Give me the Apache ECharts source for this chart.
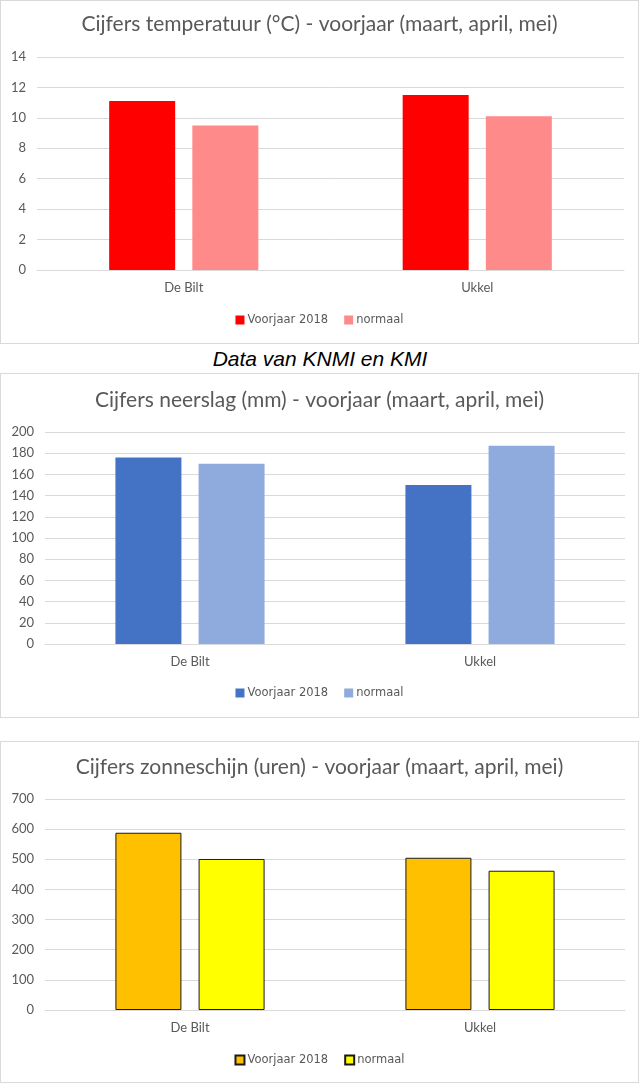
<!DOCTYPE html>
<html><head><meta charset="utf-8">
<script src="https://cdn.jsdelivr.net/npm/echarts@6/dist/echarts.min.js"></script>
<style>
body{margin:0;background:#fff;width:640px;height:1084px;position:relative;overflow:hidden}
.panel{position:absolute;left:0;width:639px;border:1px solid #d9d9d9;box-sizing:border-box;background:#fff}
#note{position:absolute;left:0;width:640px;top:347px;line-height:24px;text-align:center;font:italic 21px "Liberation Sans",Arial,sans-serif;color:#000}
</style></head><body>
<div id="p1" class="panel" style="top:0;height:344px"></div>
<div id="note">Data van KNMI en KMI</div>
<div id="p2" class="panel" style="top:373px;height:345px"></div>
<div id="p3" class="panel" style="top:741px;height:342px"></div>
<script>
const categories = ['De Bilt', 'Ukkel'];
const seriesNames = ['Voorjaar 2018', 'normaal'];

const tempTitle = 'Cijfers temperatuur (°C) - voorjaar (maart, april, mei)';
const tempVoorjaar = [11.1, 11.5];
const tempNormaal = [9.5, 10.1];
const tempTicks = [0, 14, 2];

const rainTitle = 'Cijfers neerslag (mm) - voorjaar (maart, april, mei)';
const rainVoorjaar = [176, 150];
const rainNormaal = [170, 187];
const rainTicks = [0, 200, 20];

const sunTitle = 'Cijfers zonneschijn (uren) - voorjaar (maart, april, mei)';
const sunVoorjaar = [588, 505];
const sunNormaal = [501, 462];
const sunTicks = [0, 700, 100];

const FONT = 'Lato, "Noto Sans", sans-serif';
const GREY = '#595959';

function build(el, title, titleTop, ticks, vA, vB, colA, colB, grid, legendTop, border) {
  const chart = echarts.init(document.getElementById(el), null, {renderer: 'canvas'});
  const mk = (name, data, color) => ({
    name: name, type: 'bar', data: data,
    barWidth: 66, barGap: '26%',
    itemStyle: {color: color, borderColor: border ? '#1a1a1a' : color, borderWidth: border ? 1 : 0},
    emphasis: {disabled: true}
  });
  chart.setOption({
    animation: false,
    title: {text: title, left: 'center', top: titleTop, padding: 0,
      textStyle: {fontFamily: FONT, fontSize: 21, fontWeight: 'normal', color: GREY}},
    legend: {data: seriesNames, left: 'center', top: legendTop, icon: 'rect', padding: 0,
      itemWidth: 9, itemHeight: 9, itemGap: 16,
      textStyle: {fontFamily: '"DejaVu Sans", sans-serif', fontSize: 11.5, color: GREY, padding: [0, 0, 0, -2]}},
    grid: grid,
    xAxis: {type: 'category', data: categories,
      axisLine: {lineStyle: {color: '#d9d9d9'}}, axisTick: {show: false},
      axisLabel: {margin: 11, fontFamily: FONT, fontSize: 13, color: GREY}},
    yAxis: {type: 'value', min: ticks[0], max: ticks[1], interval: ticks[2],
      axisLine: {show: false}, axisTick: {show: false},
      splitLine: {lineStyle: {color: '#d9d9d9', width: 1}},
      axisLabel: {margin: 11, fontFamily: FONT, fontSize: 13, color: GREY}},
    series: [mk(seriesNames[0], vA, colA), mk(seriesNames[1], vB, colB)]
  });
}

build('p1', tempTitle, 13, tempTicks, tempVoorjaar, tempNormaal, '#ff0000', '#ff8a8a',
  {left: 36, right: 14, top: 56, bottom: 73}, 313, false);
build('p2', rainTitle, 16, rainTicks, rainVoorjaar, rainNormaal, '#4472c4', '#8faadc',
  {left: 44, right: 13, top: 58, bottom: 73}, 313, false);
build('p3', sunTitle, 15, sunTicks, sunVoorjaar, sunNormaal, '#ffc000', '#ffff00',
  {left: 44, right: 13, top: 57, bottom: 72}, 312, true);
</script>
</body></html>
